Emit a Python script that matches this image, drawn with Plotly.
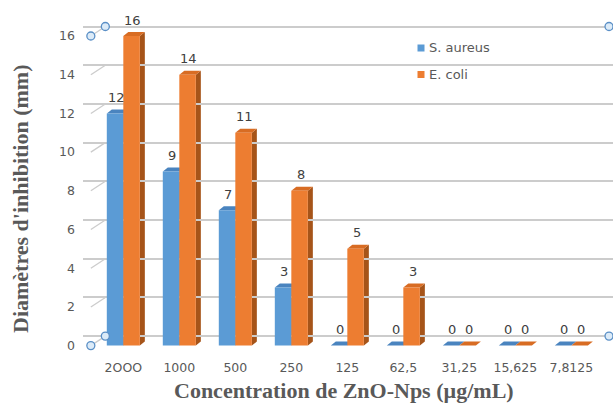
import plotly.graph_objects as go

# ---- data ----
concentrations = ["2OOO", "1000", "500", "250", "125", "62,5", "31,25", "15,625", "7,8125"]
s_aureus = [12, 9, 7, 3, 0, 0, 0, 0, 0]
e_coli = [16, 14, 11, 8, 5, 3, 0, 0, 0]
series_names = ["S. aureus", "E. coli"]
y_ticks = [0, 2, 4, 6, 8, 10, 12, 14, 16]

# ---- geometry of the figure ----
W, H = 615, 403
ML, MR, MT, MB = 83, 2, 17, 51
PLOT_W = W - ML - MR
PLOT_H = H - MT - MB
X_RANGE = [-0.72, 8.744]
Y_RANGE = [-0.33, 16.983]
PX_X = PLOT_W / (X_RANGE[1] - X_RANGE[0])   # pixels per category step
PX_Y = PLOT_H / (Y_RANGE[1] - Y_RANGE[0])   # pixels per mm

BAR_W = 0.295
OFFSETS = [-BAR_W, 0.0]

# 3D depth of the bars and of the back wall, in pixels -> data units
BAR_DX, BAR_DY = 5 / PX_X, 4 / PX_Y
WALL_X0 = -0.58
WALL_DX, WALL_DY = 14.5 / PX_X, 9.5 / PX_Y
WALL_X1 = 8.673

FRONT = ["#5B9BD5", "#ED7D31"]
TOP = ["#4A84BF", "#D86C23"]
SIDE = ["#3F6F9E", "#A65419"]

TICK_COLOR = "#595959"
LABEL_COLOR = "#404040"
GRID_COLOR = "#CCCCCC"
SANS = "DejaVu Sans"
SERIF = "Liberation Serif"

x_idx = list(range(len(concentrations)))
values = [s_aureus, e_coli]

fig = go.Figure()
for k, vals in enumerate(values):
    fig.add_trace(go.Bar(
        x=x_idx, y=vals, width=BAR_W, offset=OFFSETS[k],
        marker=dict(color=FRONT[k], line=dict(width=0)),
        name=series_names[k], showlegend=False, hoverinfo="x+y",
    ))
# empty trace that carries the back-wall axis (its gridlines form the wall grid)
fig.add_trace(go.Scatter(x=[None], y=[None], yaxis="y2", mode="lines",
                         showlegend=False, hoverinfo="skip"))

shapes = []
# white strips hiding the wall gridlines outside the back wall
shapes.append(dict(type="rect", xref="x", yref="y", layer="below",
                   x0=X_RANGE[0], x1=WALL_X0 + WALL_DX, y0=Y_RANGE[0], y1=Y_RANGE[1],
                   fillcolor="white", line=dict(width=0)))
shapes.append(dict(type="rect", xref="x", yref="y", layer="below",
                   x0=WALL_X1, x1=X_RANGE[1], y0=Y_RANGE[0], y1=Y_RANGE[1],
                   fillcolor="white", line=dict(width=0)))
# slanted side-wall segments of the gridlines
for v in y_ticks:
    shapes.append(dict(type="line", xref="x", yref="y",
                       x0=WALL_X0, y0=v, x1=WALL_X0 + WALL_DX, y1=v + WALL_DY,
                       line=dict(color=GRID_COLOR, width=1.3), layer="below"))

# side and top faces of every bar
for k, vals in enumerate(values):
    for i, v in enumerate(vals):
        xl = i + OFFSETS[k]
        xr = xl + BAR_W
        side = (f"M{xr},0 L{xr + BAR_DX},{BAR_DY} L{xr + BAR_DX},{v + BAR_DY} "
                f"L{xr},{v} Z")
        top = (f"M{xl},{v} L{xl + BAR_DX},{v + BAR_DY} "
               f"L{xr + BAR_DX},{v + BAR_DY} L{xr},{v} Z")
        shapes.append(dict(type="path", path=side, xref="x", yref="y",
                           fillcolor=SIDE[k], line=dict(width=0), layer="below"))
        shapes.append(dict(type="path", path=top, xref="x", yref="y",
                           fillcolor=TOP[k], line=dict(width=0), layer="below"))

# selection handles on the corners of the chart walls
handles = [
    (WALL_X0, y_ticks[-1]), (WALL_X0 + WALL_DX, y_ticks[-1] + WALL_DY),
    (WALL_X0, 0), (WALL_X0 + WALL_DX, WALL_DY),
    (WALL_X1, y_ticks[-1] + WALL_DY), (WALL_X1, WALL_DY),
]
for hx, hy in handles:
    shapes.append(dict(type="circle", xref="x", yref="y",
                       xsizemode="pixel", ysizemode="pixel",
                       xanchor=hx, yanchor=hy, x0=-4, x1=4, y0=-4, y1=4,
                       fillcolor="#DCEBF8", line=dict(color="#5A8FC6", width=1.3),
                       layer="above"))

annotations = []
# value labels above the bars
for k, vals in enumerate(values):
    for i, v in enumerate(vals):
        annotations.append(dict(
            x=i + OFFSETS[k] + BAR_W / 2, y=v, xref="x", yref="y",
            text=str(v), showarrow=False, yshift=16, xshift=1,
            font=dict(family=SANS, size=13, color=LABEL_COLOR),
        ))


def paper_x(px):
    return (px - ML) / PLOT_W


def paper_y(py):
    return (H - MB - py) / PLOT_H


# legend drawn as colour squares plus text
legend_rows = [48, 74.5]
for k, name in enumerate(series_names):
    shapes.append(dict(type="rect", xref="paper", yref="paper",
                       xsizemode="pixel", ysizemode="pixel",
                       xanchor=paper_x(421), yanchor=paper_y(legend_rows[k]),
                       x0=-3.5, x1=3.5, y0=-3.5, y1=3.5,
                       fillcolor=FRONT[k], line=dict(width=0)))
    annotations.append(dict(
        x=paper_x(427), y=paper_y(legend_rows[k]), xref="paper", yref="paper",
        xanchor="left", yanchor="middle", text=name, showarrow=False,
        font=dict(family=SANS, size=13, color=TICK_COLOR),
    ))

# axis titles
annotations.append(dict(
    x=paper_x(344), y=paper_y(390), xref="paper", yref="paper",
    text="<b>Concentration de ZnO-Nps (µg/mL)</b>", showarrow=False,
    xanchor="center", yanchor="middle",
    font=dict(family=SERIF, size=22, color=TICK_COLOR),
))
annotations.append(dict(
    x=paper_x(20), y=paper_y(199), xref="paper", yref="paper",
    text="<b>Diamètres d'inhibition (mm)</b>", showarrow=False, textangle=-90,
    xanchor="center", yanchor="middle",
    font=dict(family=SERIF, size=22, color=TICK_COLOR),
))

fig.update_layout(
    template="none",
    width=W, height=H,
    margin=dict(l=ML, r=MR, t=MT, b=MB, pad=0),
    paper_bgcolor="white", plot_bgcolor="white",
    barmode="overlay",
    showlegend=False,
    shapes=shapes,
    annotations=annotations,
    xaxis=dict(
        range=X_RANGE, tickvals=x_idx, ticktext=concentrations,
        showgrid=False, zeroline=False, showline=False, ticks="",
        ticklabelstandoff=6, automargin=False,
        tickfont=dict(family=SANS, size=12.5, color=TICK_COLOR),
    ),
    yaxis=dict(
        range=Y_RANGE, tickvals=y_ticks,
        showgrid=False, zeroline=False, showline=False, ticks="",
        ticklabelstandoff=7, automargin=False,
        tickfont=dict(family=SANS, size=12.5, color=TICK_COLOR),
    ),
    # back-wall axis: same scale as the value axis, lifted by the wall depth
    yaxis2=dict(
        overlaying="y", side="right",
        range=[Y_RANGE[0] - WALL_DY, Y_RANGE[1] - WALL_DY], tickvals=y_ticks,
        showgrid=True, gridcolor=GRID_COLOR, gridwidth=1.5,
        zeroline=False, showline=False, ticks="", showticklabels=False,
        automargin=False,
    ),
)

fig.write_html("out.html")
